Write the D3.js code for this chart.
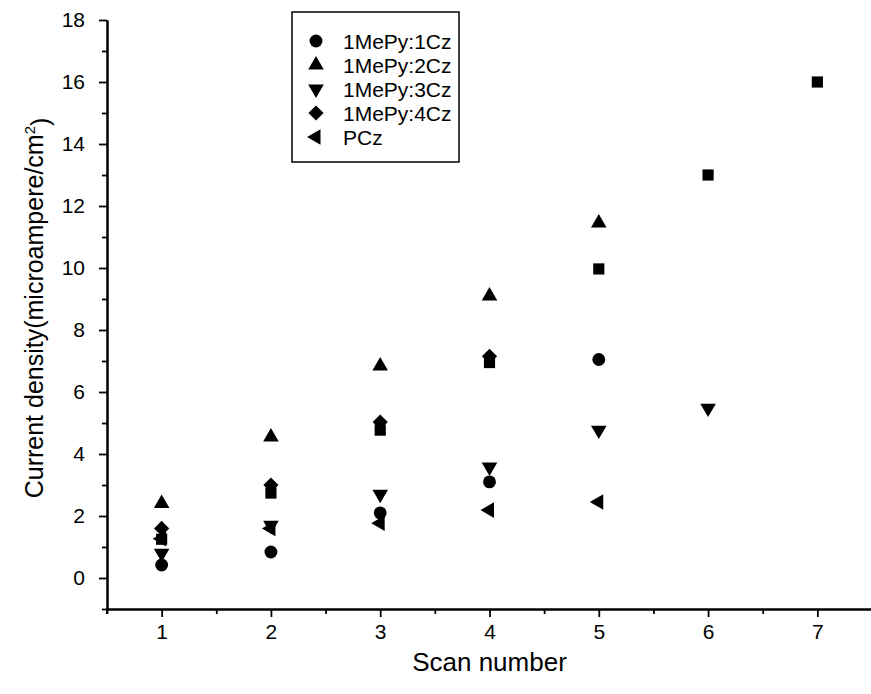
<!DOCTYPE html>
<html>
<head>
<meta charset="utf-8">
<script src="https://cdn.jsdelivr.net/npm/d3@7"></script>
<style>
  body { margin: 0; background: #fff; }
  text { font-family: "Liberation Sans", Arial, sans-serif; fill: #000; }
</style>
</head>
<body>
<div id="chart"></div>
<script>
// data
var scans = [1, 2, 3, 4, 5, 6, 7];
var s1Cz = [0.42, 0.84, 2.1, 3.1, 7.05];          // circle
var s2Cz = [2.4, 4.55, 6.84, 9.1, 11.45];         // triangle up
var s3Cz = [0.8, 1.7, 2.7, 3.58, 4.77, 5.48];     // triangle down
var s4Cz = [1.6, 3.0, 5.03, 7.15];                // diamond
var sPCz = [1.27, 1.6, 1.77, 2.19, 2.45];         // triangle left
var sSquare = [1.25, 2.74, 4.77, 6.95, 9.97, 13.0, 16.0]; // square, not in legend
var yTicks = [0, 2, 4, 6, 8, 10, 12, 14, 16, 18];

var width = 871, height = 694;

var svg = d3.select("#chart").append("svg")
  .attr("width", width)
  .attr("height", height);

var x = d3.scaleLinear().domain([0.5, 7.5]).range([107, 872]);
var y = d3.scaleLinear().domain([-1, 18]).range([609, 20]);

// series: symbol type, rotation, size
var series = [
  { name: "1MePy:1Cz", vals: s1Cz, type: d3.symbolCircle, rot: 0, size: 130 },
  { name: "1MePy:2Cz", vals: s2Cz, type: d3.symbolTriangle, rot: 0, size: 105 },
  { name: "1MePy:3Cz", vals: s3Cz, type: d3.symbolTriangle, rot: 180, size: 105 },
  { name: "1MePy:4Cz", vals: s4Cz, type: d3.symbolSquare, rot: 45, size: 115 },
  { name: "PCz", vals: sPCz, type: d3.symbolTriangle, rot: -90, size: 105 },
  { name: null, vals: sSquare, type: d3.symbolSquare, rot: 0, size: 125 }
];

// axes
var xAxis = d3.axisBottom(x).tickValues(scans).tickSize(8).tickSizeOuter(0).tickPadding(7).tickFormat(d3.format("d"));
var xMinor = d3.axisBottom(x).tickValues([0.5, 1.5, 2.5, 3.5, 4.5, 5.5, 6.5]).tickSize(5).tickSizeOuter(0).tickFormat("");
var yAxis = d3.axisLeft(y).tickValues(yTicks).tickSize(8).tickSizeOuter(0).tickPadding(14).tickFormat(d3.format("d"));
var yMinor = d3.axisLeft(y).tickValues([-1, 1, 3, 5, 7, 9, 11, 13, 15, 17]).tickSize(5).tickSizeOuter(0).tickFormat("");

function styleAxis(g) {
  g.select(".domain").attr("stroke", "#000").attr("stroke-width", 2);
  g.selectAll(".tick line").attr("stroke", "#000").attr("stroke-width", 1.8);
  g.selectAll(".tick text").style("font-size", "21px").attr("fill", "#000");
}

svg.append("g").attr("transform", "translate(0,609)").call(xMinor).call(styleAxis);
svg.append("g").attr("transform", "translate(0,609)").call(xAxis).call(styleAxis);
svg.append("g").attr("transform", "translate(107,0)").call(yMinor).call(styleAxis);
svg.append("g").attr("transform", "translate(107,0)").call(yAxis).call(styleAxis);

// y axis sticks out a little below the x axis
svg.append("line")
  .attr("x1", 107).attr("x2", 107)
  .attr("y1", 609).attr("y2", 614)
  .attr("stroke", "#000").attr("stroke-width", 2);

// points
series.forEach(function(s) {
  svg.append("g").selectAll("path")
    .data(s.vals)
    .enter()
    .append("path")
      .attr("d", d3.symbol().type(s.type).size(s.size))
      .attr("transform", (d, i) => `translate(${x(scans[i])},${y(d)}) rotate(${s.rot})`)
      .attr("fill", "#000");
});

// axis titles
svg.append("text")
  .attr("x", x(4))
  .attr("y", 671)
  .attr("text-anchor", "middle")
  .style("font-size", "26px")
  .text("Scan number");

var yTitle = svg.append("text")
  .attr("transform", "translate(43,308) rotate(-90)")
  .attr("text-anchor", "middle")
  .style("font-size", "25px");
yTitle.append("tspan").text("Current density(microampere/cm");
yTitle.append("tspan").attr("dy", "-0.55em").style("font-size", "15px").text("2");
yTitle.append("tspan").attr("dy", "0.55em").text(")");

// legend
var legend = svg.append("g");
legend.append("rect")
  .attr("x", 292).attr("y", 12)
  .attr("width", 167).attr("height", 150)
  .attr("fill", "#fff")
  .attr("stroke", "#000")
  .attr("stroke-width", 1.5);

var items = legend.selectAll(".item")
  .data(series.filter(s => s.name))
  .enter()
  .append("g")
    .attr("transform", (d, i) => `translate(316,${41 + i * 24})`);

items.append("path")
  .attr("d", d => d3.symbol().type(d.type).size(d.size)())
  .attr("transform", d => `rotate(${d.rot})`)
  .attr("fill", "#000");

items.append("text")
  .attr("x", 27)
  .attr("dy", "0.36em")
  .style("font-size", "21px")
  .text(d => d.name);
</script>
</body>
</html>
